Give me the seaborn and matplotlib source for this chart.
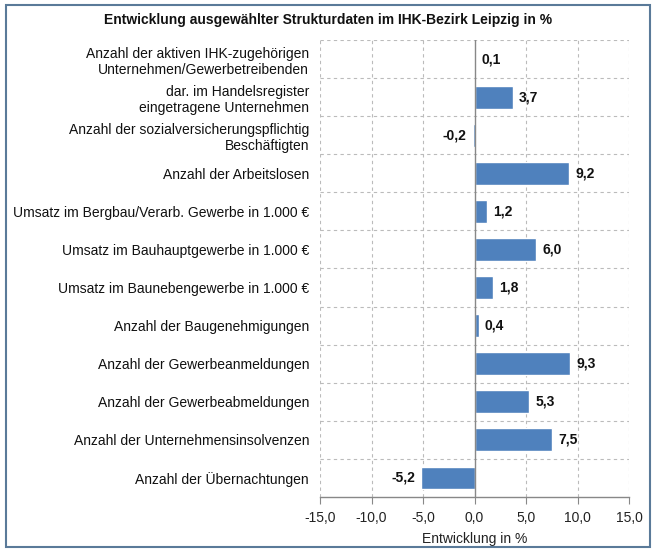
import matplotlib
matplotlib.use("Agg")
import matplotlib.pyplot as plt
import seaborn as sns
import pandas as pd
from matplotlib.patches import Rectangle

categories = [
    "Anzahl der aktiven IHK-zugehörigen\nUnternehmen/Gewerbetreibenden",
    "dar. im Handelsregister\neingetragene Unternehmen",
    "Anzahl der sozialversicherungspflichtig\nBeschäftigten",
    "Anzahl der Arbeitslosen",
    "Umsatz im Bergbau/Verarb. Gewerbe in 1.000 €",
    "Umsatz im Bauhauptgewerbe in 1.000 €",
    "Umsatz im Baunebengewerbe in 1.000 €",
    "Anzahl der Baugenehmigungen",
    "Anzahl der Gewerbeanmeldungen",
    "Anzahl der Gewerbeabmeldungen",
    "Anzahl der Unternehmensinsolvenzen",
    "Anzahl der Übernachtungen",
]
values = [0.1, 3.7, -0.2, 9.2, 1.2, 6.0, 1.8, 0.4, 9.3, 5.3, 7.5, -5.2]
xticks = [-15, -10, -5, 0, 5, 10, 15]

sns.set_theme(style="white")
plt.rcParams['font.family'] = ['Liberation Sans', 'DejaVu Sans']

df = pd.DataFrame({"cat": categories, "val": values})

fig = plt.figure(figsize=(6.56, 5.52), dpi=100)
ax = fig.add_axes([0.488, 0.0996, 0.471, 0.828])

sns.barplot(data=df, y="cat", x="val", orient="h", color="#4F81BD",
            saturation=1, width=0.6, ax=ax, zorder=3)

ax.set_xlim(-15, 15)
ax.set_ylim(len(categories) - 0.5, -0.5)
ax.set_xticks(xticks)
ax.set_xticklabels([f"{t:.1f}".replace(".", ",") for t in xticks], fontsize=10, color="#222222")
ax.tick_params(axis="x", length=5, width=0.8, color="#888888", direction="out", pad=5, bottom=True)
ax.tick_params(axis="y", length=0, labelsize=10, labelcolor="#111111", pad=8)
for lab in ax.get_yticklabels():
    lab.set_linespacing(1.2)
ax.set_ylabel("")
ax.set_xlabel("Entwicklung in %", fontsize=10, color="#222222", labelpad=5)

for s in ["top", "right", "left"]:
    ax.spines[s].set_visible(False)
ax.spines["bottom"].set_color("#888888")
ax.spines["bottom"].set_linewidth(1.0)

# grid
for t in xticks:
    if t == 0:
        ax.axvline(t, color="#888888", lw=1.0, zorder=4)
    else:
        ax.axvline(t, color="#BBBBBB", lw=0.8, ls=(0, (3, 3)), zorder=1)
for i in range(len(categories)):
    ax.axhline(i - 0.5, color="#BBBBBB", lw=0.8, ls=(0, (3, 3)), zorder=1)

for i, v in enumerate(values):
    txt = f"{v:.1f}".replace(".", ",")
    if v >= 0:
        ax.text(v + 0.6, i, txt, va="center", ha="left", fontsize=10, fontweight="bold", color="#111111")
    else:
        ax.text(v - 0.6, i, txt, va="center", ha="right", fontsize=10, fontweight="bold", color="#111111")

fig.text(0.5, 0.963, "Entwicklung ausgewählter Strukturdaten im IHK-Bezirk Leipzig in %",
         ha="center", va="center", fontsize=10, fontweight="bold", color="#111111")

fig.patches.append(Rectangle((0.009, 0.009), 0.982, 0.982, transform=fig.transFigure,
                             fill=False, edgecolor="#5A7A99", lw=1.5))

fig.savefig("out.png", dpi=100)
